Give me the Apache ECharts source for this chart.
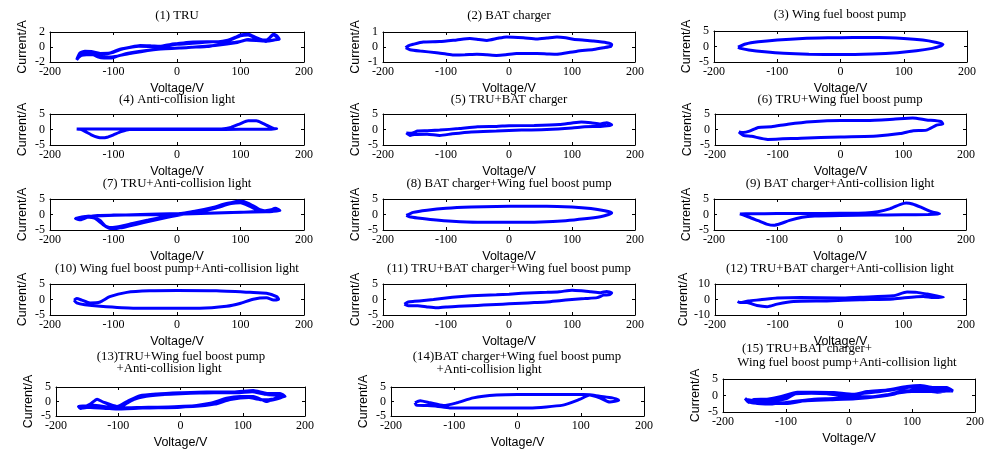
<!DOCTYPE html>
<html><head><meta charset="utf-8">
<script src="https://cdn.jsdelivr.net/npm/echarts@6/dist/echarts.min.js"></script>
<style>html,body{margin:0;padding:0;background:#fff}#c{width:994px;height:450px}</style>
</head><body><div id="c"></div>
<script>
// ---- data: [voltage V, current A] trajectories ----
const titles = [
 ["(1) TRU"],["(2) BAT charger"],["(3) Wing fuel boost pump"],
 ["(4) Anti-collision light"],["(5) TRU+BAT charger"],["(6) TRU+Wing fuel boost pump"],
 ["(7) TRU+Anti-collision light"],["(8) BAT charger+Wing fuel boost pump"],["(9) BAT charger+Anti-collision light"],
 ["(10) Wing fuel boost pump+Anti-collision light"],["(11) TRU+BAT charger+Wing fuel boost pump"],["(12) TRU+BAT charger+Anti-collision light"],
 ["(13)TRU+Wing fuel boost pump","+Anti-collision light"],["(14)BAT charger+Wing fuel boost pump","+Anti-collision light"],["(15) TRU+BAT charger+","Wing fuel boost pump+Anti-collision light"]
];
const xTicks = [-200,-100,0,100,200];
const yLimits = [2,1,5,5,5,5,5,5,5,5,5,10,5,5,5];

const tru = [[-158,-1.7],[-153,-0.8],[-145,-0.55],[-135,-0.6],[-121,-0.85],[-106,-0.8],[-92,-0.35],[-75,-0.05],[-58,0.2],[-40,0.15],[-27,0.1],[-10,0.35],[0,0.45],[20,0.65],[47,0.7],[65,0.7],[80,0.9],[92,1.3],[100,1.6],[112,1.7],[125,1.25],[135,0.95],[143,1.0],[152,1.7],[157,1.5],[161,1.05],[152,0.95],[140,0.75],[125,0.9],[112,1.0],[100,0.75],[80,0.5],[60,0.25],[47,0.05],[30,0.0],[15,-0.1],[-16,-0.2],[-48,-0.45],[-79,-0.85],[-95,-1.25],[-103,-1.45],[-115,-1.45],[-125,-1.3],[-137,-0.85],[-150,-1.0],[-158,-1.7],
 [-153,-0.9],[-145,-0.6],[-130,-0.7],[-115,-0.95],[-100,-0.7],[-85,-0.25],[-60,0.1],[-30,0.05],[0,0.35],[40,0.6],[80,0.85],[100,1.5],[112,1.6],[125,1.15],[140,0.9],[152,1.6],[160,1.1],[140,0.8],[110,0.95],[95,0.6],[60,0.2],[20,-0.05],[-30,-0.3],[-70,-0.8],[-100,-1.3],[-115,-1.35],[-130,-1.0],[-150,-1.1],[-158,-1.6]];
const batCharger = [[-164,-0.05],[-160,0.08],[-152,0.18],[-136,0.33],[-110,0.36],[-83,0.47],[-62,0.56],[-48,0.5],[-35,0.44],[-18,0.58],[-4,0.67],[23,0.62],[44,0.54],[60,0.6],[76,0.67],[90,0.62],[102,0.52],[120,0.45],[134,0.4],[155,0.29],[163,0.18],[162,0.05],[150,-0.05],[134,-0.16],[108,-0.28],[90,-0.4],[76,-0.48],[60,-0.46],[44,-0.44],[12,-0.44],[-5,-0.52],[-20,-0.56],[-35,-0.52],[-51,-0.49],[-70,-0.52],[-88,-0.53],[-100,-0.47],[-115,-0.38],[-141,-0.27],[-157,-0.18],[-164,-0.05]];
const wingPump = [[-162,-0.2],[-150,0.8],[-130,1.5],[-100,2.1],[-60,2.6],[-20,2.8],[20,2.9],[60,2.9],[100,2.6],[130,2.1],[150,1.4],[162,0.7],[158,0.1],[145,-0.6],[120,-1.4],[90,-2.0],[50,-2.4],[0,-2.6],[-50,-2.5],[-90,-2.2],[-120,-1.7],[-145,-1.1],[-158,-0.6],[-162,-0.2]];
const antiLight = [[-158,0.2],[-140,0.2],[-100,0.15],[-50,0.15],[0,0.15],[40,0.15],[70,0.2],[85,0.7],[100,1.9],[112,2.8],[125,2.8],[135,2.0],[145,1.0],[153,0.3],[157,0.2],[140,0.1],[100,0.05],[50,0.0],[0,0.0],[-50,0.0],[-75,0.0],[-88,-0.7],[-100,-1.7],[-110,-2.5],[-118,-2.7],[-125,-2.5],[-135,-1.7],[-145,-0.6],[-152,0.05],[-158,0.2]];
const truBat = [[-163,-1.1],[-155,-1.2],[-145,-0.5],[-130,-0.4],[-110,-0.2],[-80,0.3],[-50,0.9],[-20,1.0],[0,1.2],[40,1.3],[80,1.6],[100,2.1],[115,2.4],[130,2.2],[145,1.8],[155,2.2],[163,1.5],[160,1.3],[145,1.0],[120,0.9],[100,0.5],[60,0.0],[20,-0.2],[-20,-0.5],[-60,-0.8],[-90,-1.4],[-110,-1.9],[-130,-1.5],[-150,-1.6],[-157,-1.9],[-163,-1.1]];
const truWing = [[-162,-0.8],[-155,-1.0],[-145,-0.55],[-131,0.67],[-110,0.9],[-84,1.7],[-47,2.5],[0,2.9],[42,2.9],[84,3.3],[115,3.7],[137,3.1],[160,2.6],[163,1.8],[153,1.4],[137,-0.2],[116,-0.4],[95,-1.3],[58,-2.1],[0,-2.4],[-63,-2.8],[-116,-3.2],[-142,-2.2],[-155,-1.9],[-162,-0.8]];
const truAnti = [[-160,-1.3],[-150,-0.8],[-140,-0.6],[-125,-1.5],[-115,-3.5],[-105,-4.5],[-95,-4.5],[-75,-3.4],[-50,-2.2],[-25,-1.0],[0,0.0],[25,0.8],[50,1.8],[75,3.2],[95,4.3],[105,4.2],[120,2.8],[135,1.2],[145,1.3],[155,2.0],[162,1.3],[150,1.0],[140,0.9],[100,0.7],[50,0.4],[0,0.1],[-50,-0.1],[-100,-0.2],[-125,-0.3],[-140,-0.8],[-152,-1.7],[-160,-1.3],
 [-150,-0.9],[-138,-0.7],[-122,-1.8],[-112,-3.8],[-100,-4.3],[-85,-4.2],[-65,-3.2],[-40,-2.0],[-15,-0.9],[10,0.1],[35,0.9],[60,2.0],[85,3.5],[100,3.8],[115,2.6],[132,1.0],[148,1.5],[158,1.8],[162,1.3],
 [-145,-0.7],[-130,-1.2],[-118,-3.0],[-108,-4.2],[-95,-4.0],[-70,-2.9],[-45,-1.8],[-20,-0.7],[5,0.3],[30,1.1],[55,2.2],[80,3.6],[98,4.0],[110,3.6],[125,2.0],[140,1.2],[155,1.7],[162,1.3]];
const batWing = [[-163,-0.3],[-152,0.7],[-130,1.4],[-100,2.0],[-60,2.4],[-20,2.6],[20,2.7],[60,2.7],[100,2.4],[130,1.9],[152,1.2],[163,0.6],[158,0.0],[145,-0.7],[120,-1.4],[90,-2.0],[50,-2.4],[0,-2.5],[-50,-2.5],[-90,-2.2],[-120,-1.7],[-145,-1.1],[-158,-0.7],[-163,-0.3]];
const batAnti = [[-159,0.2],[-140,0.25],[-100,0.3],[-50,0.3],[0,0.4],[40,0.5],[60,0.9],[80,1.9],[95,3.2],[105,3.7],[115,3.4],[130,2.2],[145,0.9],[158,0.2],[140,0.0],[100,-0.1],[50,-0.2],[0,-0.3],[-40,-0.5],[-60,-0.9],[-80,-1.9],[-95,-3.0],[-105,-3.5],[-115,-3.2],[-130,-2.0],[-145,-0.8],[-159,0.2]];
const wingAnti = [[-162,-0.2],[-158,0.3],[-150,-0.2],[-137,-1.1],[-121,-0.8],[-106,0.9],[-79,2.3],[-43,2.8],[0,2.9],[62,2.8],[115,2.3],[141,2.0],[157,0.9],[160,0.1],[152,-0.2],[141,0.55],[120,0.1],[99,-1.3],[78,-2.2],[36,-2.8],[0,-2.8],[-69,-2.8],[-121,-2.2],[-145,-1.7],[-158,-1.1],[-162,-0.2]];
const truBatWing = [[-166,-1.5],[-160,-0.8],[-150,-0.6],[-135,-0.3],[-120,0.0],[-100,0.5],[-80,0.9],[-60,1.2],[-40,1.4],[-20,1.5],[0,1.7],[20,2.0],[40,2.2],[60,2.3],[80,2.5],[100,3.0],[115,2.8],[130,2.5],[145,2.2],[155,2.6],[163,2.2],[160,1.6],[150,1.4],[140,0.6],[120,0.3],[100,0.0],[80,-0.4],[60,-0.8],[40,-1.0],[20,-1.2],[0,-1.4],[-20,-1.6],[-40,-1.8],[-60,-2.0],[-80,-2.2],[-100,-2.4],[-115,-2.7],[-130,-2.4],[-145,-2.0],[-160,-2.0],[-166,-1.5]];
const truBatAnti = [[-164,-1.3],[-160,-2.0],[-147,-0.9],[-128,-0.2],[-101,0.9],[-64,1.3],[0,0.9],[31,1.5],[84,2.4],[106,4.8],[122,4.6],[138,3.5],[164,1.5],[148,1.3],[132,2.0],[84,0.4],[31,-0.2],[-22,-0.9],[-75,-1.3],[-101,-3.0],[-117,-4.6],[-133,-3.9],[-149,-2.0],[-160,-2.0],[-164,-1.3]];
const truWingAnti = [[-164,-1.7],[-161,-2.4],[-145,-0.9],[-134,0.8],[-124,-0.2],[-102,-1.7],[-86,0.0],[-65,2.0],[-38,2.6],[0,3.0],[42,3.3],[85,3.3],[117,3.8],[139,2.8],[160,2.8],[168,1.7],[155,1.3],[139,0.0],[117,1.7],[96,1.7],[74,1.1],[48,-0.6],[0,-2.0],[-49,-2.2],[-86,-2.4],[-113,-2.2],[-140,-1.7],[-156,-2.2],[-164,-1.7],
 [-150,-1.5],[-125,-1.9],[-100,-2.3],[-88,-0.8],[-70,1.2],[-45,2.2],[0,2.7],[50,3.0],[90,3.0],[115,3.4],[135,2.5],[160,2.4],[165,1.6],[140,0.3],[110,1.4],[80,0.7],[55,-0.9],[20,-1.7],[-40,-2.0],[-100,-2.6],[-140,-2.0],[-164,-1.7],
 [-160,-1.9],[-140,-1.3],[-112,-2.0],[-95,-1.5],[-78,0.5],[-55,1.8],[-20,2.5],[30,2.9],[85,3.1],[112,3.5],[138,2.4],[162,2.0],[150,0.9],[130,0.6],[105,1.6],[85,1.3],[62,0.0],[35,-1.2],[-10,-1.8],[-70,-2.1],[-120,-2.4],[-150,-2.0]];
const batWingAnti = [[-162,-0.45],[-154,0.3],[-138,-0.45],[-117,-1.4],[-96,-0.45],[-70,1.25],[-33,2.2],[0,2.4],[72,2.4],[104,2.4],[114,2.3],[130,1.8],[150,1.25],[160,0.45],[146,-0.2],[130,1.25],[114,2.2],[98,0.7],[72,-1.25],[19,-2.2],[-59,-2.2],[-107,-2.2],[-128,-1.6],[-144,-1.4],[-160,-1.25],[-162,-0.45]];
const allLoads = [[-165,-0.9],[-159,-2.1],[-151,-1.2],[-130,-1.1],[-109,-0.4],[-82,1.0],[-56,1.0],[-24,0.9],[7,0.4],[29,1.2],[60,1.7],[92,2.7],[113,3.0],[134,2.4],[155,2.4],[165,1.4],[145,1.4],[124,1.7],[103,1.7],[71,0.4],[39,-0.4],[7,-0.4],[-24,-0.9],[-56,-1.1],[-98,-2.1],[-130,-2.4],[-156,-2.1],[-165,-0.9],
 [-158,-1.6],[-140,-1.6],[-115,-1.0],[-95,0.2],[-70,0.8],[-40,0.6],[-10,0.0],[20,0.6],[50,1.2],[80,2.3],[110,2.7],[130,2.0],[150,2.0],[163,1.5],[130,1.2],[100,1.2],[80,0.8],[50,-0.2],[10,-1.0],[-30,-1.3],[-70,-1.6],[-100,-2.4],[-140,-2.3],[-162,-1.5],
 [-160,-1.3],[-145,-1.8],[-120,-1.6],[-100,-1.0],[-85,0.5],[-60,0.7],[-30,0.5],[0,0.0],[30,0.9],[60,1.5],[95,2.5],[120,2.6],[145,2.2],[162,1.8],[140,1.0],[110,1.5],[85,1.4],[60,0.2],[25,-0.7],[-10,-0.8],[-50,-1.4],[-90,-1.9],[-125,-2.6],[-150,-2.3],[-163,-1.2]];

const curves = [tru,batCharger,wingPump,antiLight,truBat,truWing,truAnti,batWing,batAnti,wingAnti,truBatWing,truBatAnti,truWingAnti,batWingAnti,allLoads];

// ---- layout ----
const boxes = [
 [50,32,254,30],[383,32,252,30],[714,31,253,31],
 [50,114,254,31],[383,114,252,31],[715,114,251,31],
 [50,199,254,31],[383,199,252,31],[714,199,252,31],
 [50,284,254,31],[383,284,252,31],[715,284,251,31],
 [56,387,249,30],[391,387,253,30],[723,379,252,33]
];
const titlePos = [
 [[177,17]],[[509,17]],[[840,16]],
 [[177,101]],[[509,101]],[[840,101]],
 [[177,185]],[[509,185]],[[840,185]],
 [[177,270]],[[509,270]],[[840,270]],
 [[181,358],[169,370]],[[517,358],[489,371]],[[807,350],[847,364]]
];
const serif = 'Liberation Serif', sans = 'Liberation Sans';
const title = [], grid = [], xAxis = [], yAxis = [], series = [];
curves.forEach((pts, i) => {
  const b = boxes[i];
  grid.push({left:b[0], top:b[1], width:b[2], height:b[3], containLabel:false});
  titles[i].forEach((t, k) => {
    const p = titlePos[i][k];
    title.push({text:t, left:p[0], top:p[1]-8, textAlign:'center', padding:0,
      textStyle:{fontFamily:serif, fontSize:12.8, fontWeight:'normal', color:'#000'}});
  });
  const lim = yLimits[i];
  const tick = {show:true, inside:true, length:3, lineStyle:{color:'#000', width:1}};
  const line = {show:true, onZero:false, lineStyle:{color:'#000', width:1}};
  xAxis.push({gridIndex:i, type:'value', min:xTicks[0], max:xTicks[xTicks.length-1], interval:100, position:'bottom',
    axisLine:line, axisTick:tick, splitLine:{show:false},
    axisLabel:{fontFamily:serif, fontSize:12, color:'#000', margin:4},
    name:'Voltage/V', nameLocation:'middle', nameGap:20, nameTextStyle:{fontFamily:sans, fontSize:12.5, color:'#000'}});
  xAxis.push({gridIndex:i, type:'value', min:-200, max:200, interval:100, position:'top',
    axisLine:line, axisTick:tick, splitLine:{show:false}, axisLabel:{show:false}});
  yAxis.push({gridIndex:i, type:'value', min:-lim, max:lim, interval:lim, position:'left',
    axisLine:line, axisTick:tick, splitLine:{show:false},
    axisLabel:{fontFamily:serif, fontSize:12, color:'#000', margin:5},
    name:'Current/A', nameLocation:'middle', nameGap:21, nameTextStyle:{fontFamily:sans, fontSize:12.5, color:'#000'}});
  yAxis.push({gridIndex:i, type:'value', min:-lim, max:lim, interval:lim, position:'right',
    axisLine:line, axisTick:tick, splitLine:{show:false}, axisLabel:{show:false}});
  series.push({type:'line', xAxisIndex:2*i, yAxisIndex:2*i, data:pts, showSymbol:false, smooth:0.2,
    lineStyle:{color:'#0000ff', width:3}, animation:false, silent:true});
});
const chart = echarts.init(document.getElementById('c'));
chart.setOption({animation:false, backgroundColor:'#fff', title, grid, xAxis, yAxis, series});
</script></body></html>
